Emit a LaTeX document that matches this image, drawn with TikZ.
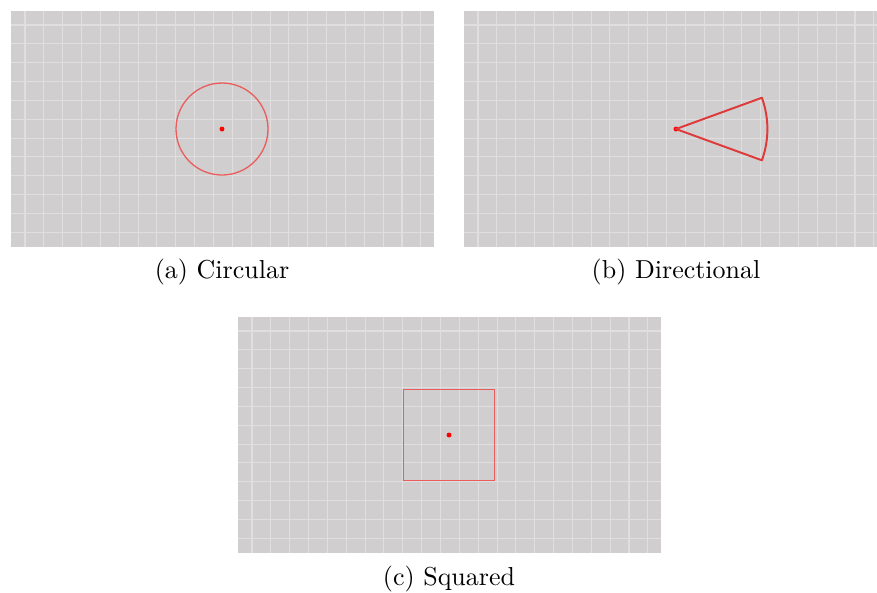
\documentclass[tikz,border=0pt]{standalone}
\usetikzlibrary{positioning}
\definecolor{panelgray}{RGB}{208,206,207}
\definecolor{gridline}{RGB}{224,222,223}
\definecolor{zonered}{RGB}{234,92,92}
\definecolor{conered}{RGB}{222,58,58}

\begin{document}
\begin{tikzpicture}[x=0.385pt, y=-0.385pt,
            panel/.style={fill=panelgray},
            gridlines/.style={draw=gridline, line width=0.4pt},
            zone/.style={draw=zonered, line width=0.5pt},
            spot/.style={circle, fill=red, inner sep=0pt, minimum size=1.9pt},
            caption/.style={font=\normalsize, anchor=base}
        ]
            \useasboundingbox (0,0) rectangle (877,592);

            % Panels with grid
            \foreach \px/\py in {11/11, 464/11, 238/317} {
                \fill[panel] (\px,\py) rectangle ++(423,236);
                \begin{scope}
                    \clip (\px,\py) rectangle ++(423,236);
                    \foreach \k in {0,...,21}
                        \draw[gridlines] (\px+14+18.85*\k,\py) -- ++(0,236);
                    \foreach \k in {0,...,11}
                        \draw[gridlines] (\px,\py+14+18.85*\k) -- ++(423,0);
                \end{scope}
            }

            % Circular
            \node[spot] (circ) at (222,129) {};
            \draw[zone] (circ.center) circle[radius=46];

            % Directional
            \node[spot] (dir) at (676,129) {};
            \draw[zone, line width=0.75pt, draw=conered, line join=round]
                (dir.center) -- +(-20:91.4) arc[start angle=-20, end angle=20, radius=91.4] -- cycle;

            % Squared
            \node[spot] (sqr) at (449,435) {};
            \draw[zone, line width=0.6pt] (sqr.center) ++(-45.5,-45.5) rectangle ++(91,91);

            % Captions
            \node[caption] (capa) at (222,278) {(a) Circular};
            \node[caption] (capb) at (676,278) {(b) Directional};
            \node[caption] (capc) at (449,585) {(c) Squared};
        \end{tikzpicture}
\end{document}
